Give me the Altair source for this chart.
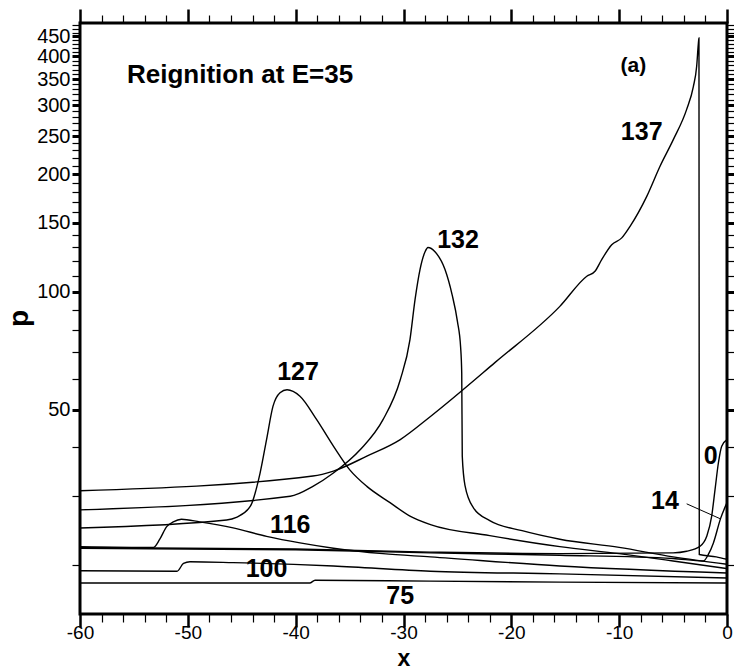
import altair as alt
import pandas as pd

# ---- series values (x, p) ----
x0 = [-60, -40, -27.5, -15.5, -5.0, -3.74, -2.5, -1.88, -1.42, -1.11, -0.8, -0.49, 0]
p0 = [22.2, 22.0, 21.6, 21.4, 21.5, 21.7, 22.35, 23.7, 26.7, 31.2, 36.5, 40.3, 41.9]

x14 = [-60, -40, -27.5, -15.5, -5.0, -2.19, -1.73, -1.26, -0.6, 0]
p14 = [22.1, 21.9, 21.5, 21.2, 20.8, 20.5, 21.3, 22.8, 26.3, 28.9]

x75 = [-60, -38.7, -38.2, -27.5, -15.5, 0]
p75 = [18.0, 18.0, 18.3, 18.2, 18.1, 18.0]

x100 = [-60, -51.0, -50.4, -49.8, -45.8, -36.5, -27.5, -15.5, 0]
p100 = [19.35, 19.3, 20.2, 20.4, 20.3, 19.9, 19.3, 19.0, 18.55]

x116 = [-60, -53.2, -52.6, -51.96, -51.35, -50.6, -48.9, -45.8, -42.7, -39.6,
        -36.5, -31.9, -27.5, -15.5, 0]
p116 = [22.3, 22.2, 23.3, 25.1, 25.8, 26.2, 25.8, 24.9, 23.7, 22.8,
        22.1, 21.4, 21.0, 19.9, 19.1]

x127 = [-60, -46.4, -45.5, -44.2, -43.3, -42.7, -42.1, -41.45, -40.8, -39.6,
        -38.05, -36.5, -35.0, -33.4, -31.25, -29.4, -27.5, -22, -15.5, -10, -5, 0]
p127 = [24.9, 26.1, 26.5, 28.3, 34.4, 41.9, 51.0, 55.2, 56.2, 54.1,
        47.1, 40.3, 35.1, 31.8, 28.9, 26.7, 25.4, 23.8, 22.3, 21.4, 20.5, 19.6]

x132 = [-60, -40.5, -38.4, -36.5, -34.0, -31.9, -30.3, -29.4, -28.93, -28.47,
        -28.0, -27.73, -27.08, -26.15, -25.5, -25.0, -24.7, -24.6, -24.55, -24.3,
        -23.5, -22, -19, -15.5, -10, -5, 0]
p132 = [27.7, 30.0, 31.8, 34.4, 39.5, 47.1, 59.6, 75.5, 95.5, 114,
        126.6, 129.8, 126.6, 114, 98.5, 84, 72, 62, 38, 32,
        28, 26, 24.5, 23.3, 22.2, 21.0, 20.1]

x137 = [-60, -38.4, -36.5, -33.4, -30.3, -27.5, -21.5, -15.5, -13.0, -12.24,
        -11.62, -10.69, -9.76, -8.99, -7.44, -6.21, -4.98, -3.74, -3.12, -2.81,
        -2.66, -2.60, -2.57, -1.0, 0]
p137 = [31.0, 33.8, 34.8, 38.0, 41.9, 48.0, 66.0, 91.8, 109.6, 112.9,
        120.9, 132.0, 137.4, 147.1, 175.5, 209.5, 245.0, 292.8, 335.0, 378.0,
        430.0, 446.0, 21.3, 21.0, 20.7]

series = [("0", x0, p0), ("14", x14, p14), ("75", x75, p75), ("100", x100, p100),
          ("116", x116, p116), ("127", x127, p127), ("132", x132, p132),
          ("137", x137, p137)]

# curve labels
lab_text = ["137", "132", "127", "116", "100", "75", "0", "14"]
lab_x = [-7.91, -24.94, -39.78, -40.5, -42.7, -30.3, -1.51, -5.75]
lab_p = [257, 136, 62.2, 25.4, 19.5, 16.65, 38.1, 29.1]

panel_text = ["(a)"]
panel_x = [-8.69]
panel_p = [378]

title_text = ["Reignition at E=35"]
title_x = [-55.64]
title_p = [359]

leader_x = [-3.74, -0.65]
leader_p = [28.7, 26.3]

# axis tick values
x_major = list(range(-60, 1, 10))
x_minor = [v for v in range(-58, 0, 2) if v % 10 != 0]
y_major = list(range(50, 451, 50))
y_minor = [v for v in range(20, 481, 10) if v % 50 != 0]

rows = []
for name, xs, ps in series:
    for i, (a, b) in enumerate(zip(xs, ps)):
        rows.append({"t": name, "x": a, "p": b, "i": i})
df = pd.DataFrame(rows)

labels_df = pd.DataFrame({"x": lab_x, "p": lab_p, "txt": lab_text})
panel_df = pd.DataFrame({"x": panel_x, "p": panel_p, "txt": panel_text})
title_df = pd.DataFrame({"x": title_x, "p": title_p, "txt": title_text})
leader_df = pd.DataFrame({"x": leader_x, "p": leader_p, "i": [0, 1]})

FONT = "Liberation Sans"
xs_ = alt.Scale(domain=[-60, 0], nice=False, zero=False)
ys_ = alt.Scale(type="log", domain=[15, 487], nice=False)

common = dict(domain=False, grid=False, labelFlush=False, labelOverlap=False,
              tickColor="black", labelColor="black", labelFont=FONT,
              titleFont=FONT, titleColor="black")


def ax(**kw):
    d = dict(common)
    d.update(kw)
    return alt.Axis(**d)


def line_layer(xaxis, yaxis, opacity):
    return alt.Chart(df).mark_line(
        color="black", strokeWidth=1.4, interpolate="monotone", opacity=opacity
    ).encode(
        x=alt.X("x:Q", scale=xs_, axis=xaxis),
        y=alt.Y("p:Q", scale=ys_, axis=yaxis),
        detail="t:N",
        order="i:Q",
    )


l1 = line_layer(
    ax(orient="bottom", values=x_major, tickSize=13, tickWidth=2.5,
       labelFontSize=19, labelPadding=-4, labelExpr="'' + datum.value",
       title="x", titleFontSize=23,
       titleFontWeight="bold", titleX=323.5, titleY=56.5, titleBaseline="bottom"),
    ax(orient="left", values=y_major, tickSize=8, tickWidth=3,
       labelFontSize=20, labelPadding=2, title="p", titleFontSize=28,
       titleFontWeight="bold", titleX=-53, titleY=295, titleAngle=270,
       titleBaseline="alphabetic", titleAlign="center"),
    1,
)
l2 = line_layer(
    ax(orient="bottom", values=x_minor, tickSize=8, tickWidth=1.2, labels=False, title=""),
    ax(orient="left", values=y_minor, tickSize=8, tickWidth=1.2, labels=False, title=""),
    0,
)
l3 = line_layer(
    ax(orient="top", values=x_major, tickSize=14, tickWidth=2.5, labels=False, title=""),
    ax(orient="right", values=y_major, tickSize=8, tickWidth=3, labels=False, title=""),
    0,
)
l4 = line_layer(
    ax(orient="top", values=x_minor, tickSize=8, tickWidth=1.2, labels=False, title=""),
    ax(orient="right", values=y_minor, tickSize=8, tickWidth=1.2, labels=False, title=""),
    0,
)

txt = alt.Chart(labels_df).mark_text(
    font=FONT, fontSize=25, fontWeight="bold", color="black",
    align="center", baseline="middle"
).encode(
    x=alt.X("x:Q", scale=xs_, axis=None),
    y=alt.Y("p:Q", scale=ys_, axis=None),
    text="txt:N",
)
ptxt = alt.Chart(panel_df).mark_text(
    font=FONT, fontSize=21, fontWeight="bold", color="black",
    align="center", baseline="middle"
).encode(
    x=alt.X("x:Q", scale=xs_, axis=None),
    y=alt.Y("p:Q", scale=ys_, axis=None),
    text="txt:N",
)
ttxt = alt.Chart(title_df).mark_text(
    font=FONT, fontSize=26, fontWeight="bold", color="black",
    align="left", baseline="middle"
).encode(
    x=alt.X("x:Q", scale=xs_, axis=None),
    y=alt.Y("p:Q", scale=ys_, axis=None),
    text="txt:N",
)
leader = alt.Chart(leader_df).mark_line(color="black", strokeWidth=1).encode(
    x=alt.X("x:Q", scale=xs_, axis=None),
    y=alt.Y("p:Q", scale=ys_, axis=None),
    order="i:Q",
)

chart = alt.layer(l1, l2, l3, l4, txt, ptxt, ttxt, leader).resolve_axis(
    x="independent", y="independent"
).properties(
    width=647, height=591,
    padding={"left": 80, "top": 23, "right": 7, "bottom": 57},
    autosize=alt.AutoSizeParams(type="none"),
    background="white",
).configure_view(stroke="black", strokeWidth=3)

chart.save("out.html", embed_options={"renderer": "svg", "actions": False})
